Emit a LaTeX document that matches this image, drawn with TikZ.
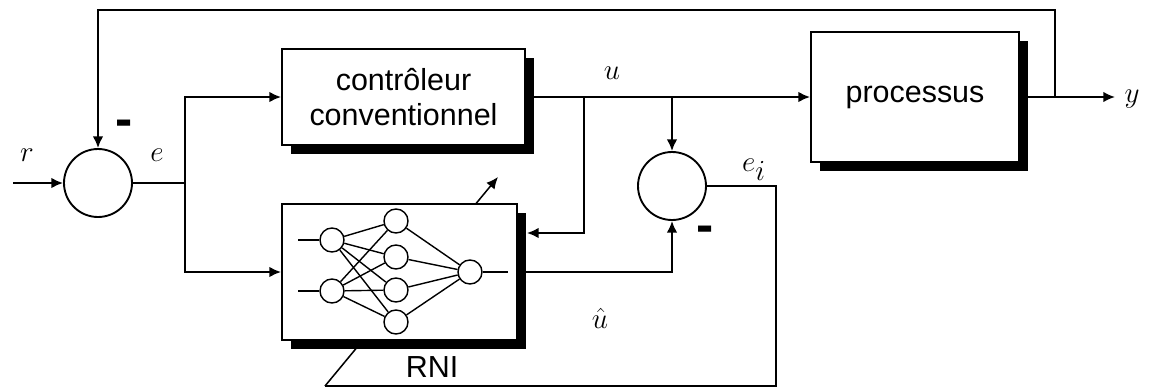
\documentclass[tikz,border=0pt]{standalone}
\usepackage{fontspec}
\setmainfont{Liberation Sans}
\usepackage{tikz}
\usetikzlibrary{arrows.meta,positioning,shadows,backgrounds,calc}
\tikzset{
  bd_box/.style={
    draw, rectangle, fill=white, line width=1.6pt,
    drop shadow={shadow xshift=0.27cm, shadow yshift=-0.27cm, fill=black, opacity=1},
    align=center, font=\fontsize{26}{30}\selectfont
  },
  bd_sum/.style={
    draw, circle, fill=white, line width=1.6pt, minimum size=2.04cm, inner sep=0pt
  },
  bd_neur/.style={
    draw, circle, fill=white, line width=1.2pt, minimum size=0.72cm, inner sep=0pt
  },
  bd_arr/.style={-{Latex[length=10pt,width=9pt]}, line width=1.6pt},
  bd_line/.style={line width=1.6pt},
  bd_syn/.style={line width=1.2pt},
  bd_lbl/.style={font=\fontsize{37}{40}\selectfont, inner sep=1pt},
  bd_minus/.style={font=\fontsize{44}{48}\selectfont\bfseries, inner sep=0pt},
}

\begin{document}
\begin{tikzpicture}[x=0.03cm, y=-0.03cm]
\useasboundingbox (0,0) rectangle (1151,388);

% Blocks
\node[bd_sum] (sum1) at (98,183) {};
\node[bd_sum] (sum2) at (672,186) {};
\node[bd_box, minimum width=7.29cm, minimum height=2.88cm] (ctrl) at (403.5,97)
  {contrôleur\\conventionnel};
\node[bd_box, minimum width=6.24cm, minimum height=3.9cm] (proc) at (915,97) {processus};
\node[bd_box, minimum width=7.05cm, minimum height=4.08cm] (rni) at (399.5,272) {};
\node[font=\fontsize{26}{30}\selectfont] (rnilbl) at (432,367) {RNI};

% Neural network inside RNI
\node[bd_neur] (in1) at (332,240) {};
\node[bd_neur] (in2) at (332,291) {};
\node[bd_neur] (h1) at (396,221) {};
\node[bd_neur] (h2) at (396,257) {};
\node[bd_neur] (h3) at (396,290) {};
\node[bd_neur] (h4) at (396,322) {};
\node[bd_neur] (out) at (470,272) {};
\foreach \i in {in1,in2}
  \foreach \h in {h1,h2,h3,h4}
    \draw[bd_syn] (\i) -- (\h);
\foreach \h in {h1,h2,h3,h4}
  \draw[bd_syn] (\h) -- (out);
\draw[bd_syn] (298,240) -- (in1);
\draw[bd_syn] (298,291) -- (in2);
\draw[bd_syn] (out) -- (508,272);

% Junctions
\coordinate (rin) at (13,183);
\coordinate (ej) at (185,183);
\coordinate (ya) at (1055,97);
\coordinate (yout) at (1115,97);
\coordinate (ua) at (584,97);
\coordinate (ub) at (672,97);
\coordinate (rniin) at ($(rni.east)+(9,-39)$);
\coordinate (adapt) at (498,177);
\coordinate (adbase) at (325,386);

% Main flow
\draw[bd_arr] (rin) -- (sum1.west);
\draw[bd_line] (sum1.east) -- (ej);
\draw[bd_arr] (ej) |- (ctrl.west);
\draw[bd_arr] (ej) |- (rni.west);
\draw[bd_arr] (ctrl.east) -- (proc.west);
\draw[bd_arr] (proc.east) -- (yout);

% Feedback
\draw[bd_arr] (ya) -- ++(0,-87) -| (sum1.north);
\draw[bd_arr] (ua) |- (rniin);
\draw[bd_arr] (ub) -- (sum2.north);
\draw[bd_arr] (rni.east) -| (sum2.south);

% Learning error
\begin{scope}[on background layer]
\draw[bd_line] (sum2.east) -| (776,386) -- (adbase);
\draw[-{Latex[length=10pt,width=9pt]}, line width=1.3pt] (adbase) -- (adapt);
\end{scope}

% Labels
\node[bd_lbl] at (27,155) {$r$};
\node[bd_lbl] at (157,155) {$e$};
\node[bd_lbl] at (612,73) {$u$};
\node[bd_lbl] at (1132,99) {$y$};
\node[bd_lbl] at (754,170) {$e_i$};
\node[bd_lbl] at (600,318) {$\hat{u}$};
\node[bd_minus] at (124,128) {-};
\node[bd_minus] at (705,234) {-};

\end{tikzpicture}
\end{document}
